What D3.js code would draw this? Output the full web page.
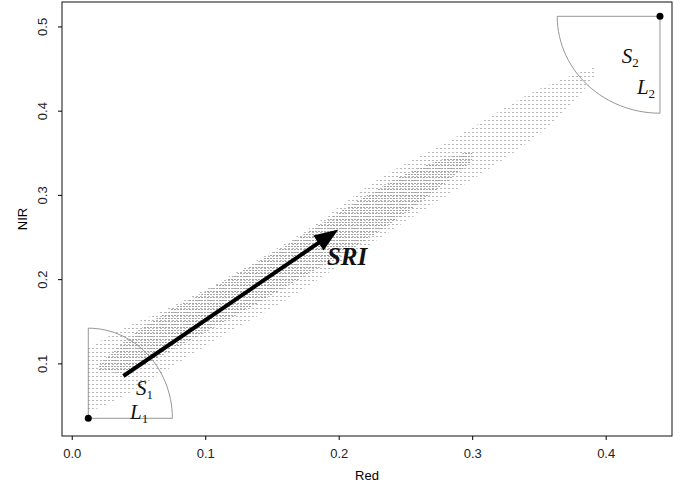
<!DOCTYPE html>
<html>
<head>
<meta charset="utf-8">
<script src="https://cdn.jsdelivr.net/npm/d3@7"></script>
<style>
  body { margin: 0; background: #fff; }
  svg { display: block; }
  .tick text { font-family: "Liberation Sans", Arial, sans-serif; font-size: 13px; fill: #222; }
  .lbl { font-family: "Liberation Serif", "Times New Roman", serif; font-style: italic; fill: #111; }
</style>
</head>
<body>
<svg width="680" height="489"></svg>
<script>
const bandRed     = [0.012, 0.036, 0.066, 0.111, 0.149, 0.186, 0.231, 0.283, 0.336, 0.366, 0.392];
const bandNirHigh = [0.118, 0.140, 0.161, 0.196, 0.232, 0.267, 0.324, 0.362, 0.416, 0.437, 0.452];
const bandNirLow  = [0.042, 0.057, 0.087, 0.132, 0.164, 0.200, 0.250, 0.301, 0.354, 0.392, 0.440];

// denser core of the cloud
const coreRed     = [0.020, 0.040, 0.066, 0.111, 0.149, 0.186, 0.216, 0.261, 0.300];
const coreNirHigh = [0.098, 0.128, 0.158, 0.194, 0.229, 0.265, 0.295, 0.336, 0.352];
const coreNirLow  = [0.092, 0.085, 0.108, 0.146, 0.180, 0.214, 0.241, 0.289, 0.340];

// end members (soil line ends) and their sectors
const endRed = [0.0124, 0.4407];
const endNir = [0.0348, 0.512];
const sectorRadRed = [0.063, 0.077];
const sectorRadNir = [0.107, 0.115];
const sectorStart = [0, Math.PI];          // angle ranges of each quarter
const sectorEnd = [Math.PI / 2, 1.5 * Math.PI];

// SRI arrow
const arrowRed = [0.0387, 0.1997];
const arrowNir = [0.085, 0.259];

// text labels
const labelMain = ["S", "L", "S", "L"];
const labelSub = ["1", "1", "2", "2"];
const labelRed = [0.0482, 0.0437, 0.4120, 0.4234];
const labelNir = [0.062, 0.0336, 0.457, 0.420];

const xTicks = [0, 0.1, 0.2, 0.3, 0.4];
const yTicks = [0.1, 0.2, 0.3, 0.4, 0.5];

const svg = d3.select("svg");
const mLeft = 62, mRight = 672, mTop = 2, mBottom = 436;

const x = d3.scaleLinear().domain([-0.0073, 0.4497]).range([mLeft, mRight]);
const y = d3.scaleLinear().domain([0.0138, 0.529]).range([mBottom, mTop]);

// halftone-ish dot patterns
const defs = svg.append("defs");
function dotPattern(id, size, color) {
  const p = defs.append("pattern")
    .attr("id", id)
    .attr("patternUnits", "userSpaceOnUse")
    .attr("width", size).attr("height", size);
  p.append("rect").attr("width", 1).attr("height", 1).attr("fill", color);
  p.append("rect").attr("x", 1).attr("width", 1).attr("height", 1).attr("fill", color);
}
dotPattern("sparse", 4, "#b8b8b8");
dotPattern("dense", 3, "#a4a4a4");

const area = d3.area()
  .x((d) => x(d.r))
  .y0((d) => y(d.lo))
  .y1((d) => y(d.hi))
  .curve(d3.curveBasis);

const band = bandRed.map((r, i) => ({ r: r, lo: bandNirLow[i], hi: bandNirHigh[i] }));
const core = coreRed.map((r, i) => ({ r: r, lo: coreNirLow[i], hi: coreNirHigh[i] }));

svg.append("path").attr("d", area(band)).attr("fill", "url(#sparse)");
svg.append("path").attr("d", area(core)).attr("fill", "url(#dense)");

// sectors
const line = d3.line().x((d) => x(d[0])).y((d) => y(d[1]));
endRed.forEach((cx, i) => {
  const cy = endNir[i];
  const pts = [[cx, cy]];
  d3.range(sectorStart[i], sectorEnd[i] + 0.001, Math.PI / 60).forEach((a) => {
    pts.push([cx + sectorRadRed[i] * Math.cos(a), cy + sectorRadNir[i] * Math.sin(a)]);
  });
  pts.push([cx, cy]);
  svg.append("path")
    .attr("d", line(pts))
    .attr("fill", "none")
    .attr("stroke", "#8a8a8a")
    .attr("stroke-width", 0.9);
});

svg.selectAll(".end")
  .data(endRed)
  .enter()
  .append("circle")
  .attr("class", "end")
  .attr("cx", (d) => x(d))
  .attr("cy", (d, i) => y(endNir[i]))
  .attr("r", 3.5)
  .attr("fill", "#000");

// arrow
const x0 = x(arrowRed[0]), y0 = y(arrowNir[0]);
const x1 = x(arrowRed[1]), y1 = y(arrowNir[1]);
const ang = Math.atan2(y1 - y0, x1 - x0);
const headLen = 24, headHalf = 9;
const bx = x1 - headLen * Math.cos(ang), by = y1 - headLen * Math.sin(ang);
svg.append("line")
  .attr("x1", x0).attr("y1", y0)
  .attr("x2", bx + 4 * Math.cos(ang)).attr("y2", by + 4 * Math.sin(ang))
  .attr("stroke", "#000")
  .attr("stroke-width", 4);
svg.append("polygon")
  .attr("points", [
    [x1, y1],
    [bx - headHalf * Math.sin(ang), by + headHalf * Math.cos(ang)],
    [bx + headHalf * Math.sin(ang), by - headHalf * Math.cos(ang)]
  ].map((p) => p.join(",")).join(" "))
  .attr("fill", "#000");

svg.append("text")
  .attr("class", "lbl")
  .attr("x", x(0.1912)).attr("y", y(0.2163))
  .attr("font-size", 25)
  .attr("font-weight", "bold")
  .text("SRI");

// S / L labels
const lbl = svg.selectAll(".sl")
  .data(labelMain)
  .enter()
  .append("text")
  .attr("class", "lbl sl")
  .attr("x", (d, i) => x(labelRed[i]))
  .attr("y", (d, i) => y(labelNir[i]))
  .attr("font-size", 21);
lbl.append("tspan").text((d) => d);
lbl.append("tspan")
  .attr("font-size", 13)
  .attr("font-style", "normal")
  .attr("dy", 4)
  .text((d, i) => labelSub[i]);

// frame
svg.append("rect")
  .attr("x", mLeft).attr("y", mTop)
  .attr("width", mRight - mLeft).attr("height", mBottom - mTop)
  .attr("fill", "none")
  .attr("stroke", "#111")
  .attr("stroke-width", 1);

// axes
const xAxis = svg.append("g")
  .attr("transform", `translate(0,${mBottom})`)
  .call(d3.axisBottom(x).tickValues(xTicks).tickFormat(d3.format(".1f")).tickSize(4).tickPadding(9));
xAxis.select(".domain").remove();

const yAxis = svg.append("g")
  .attr("transform", `translate(${mLeft},0)`)
  .call(d3.axisLeft(y).tickValues(yTicks).tickFormat(d3.format(".1f")).tickSize(4));
yAxis.select(".domain").remove();
yAxis.selectAll(".tick text")
  .attr("transform", "rotate(-90)")
  .attr("x", 0)
  .attr("y", -15)
  .attr("dy", 0)
  .attr("text-anchor", "middle");

svg.append("text")
  .attr("x", (mLeft + mRight) / 2).attr("y", 480)
  .attr("text-anchor", "middle")
  .attr("font-family", "Liberation Sans, Arial, sans-serif")
  .attr("font-size", 13)
  .text("Red");

svg.append("text")
  .attr("transform", `translate(27,${(mTop + mBottom) / 2}) rotate(-90)`)
  .attr("text-anchor", "middle")
  .attr("font-family", "Liberation Sans, Arial, sans-serif")
  .attr("font-size", 13)
  .text("NIR");
</script>
</body>
</html>
